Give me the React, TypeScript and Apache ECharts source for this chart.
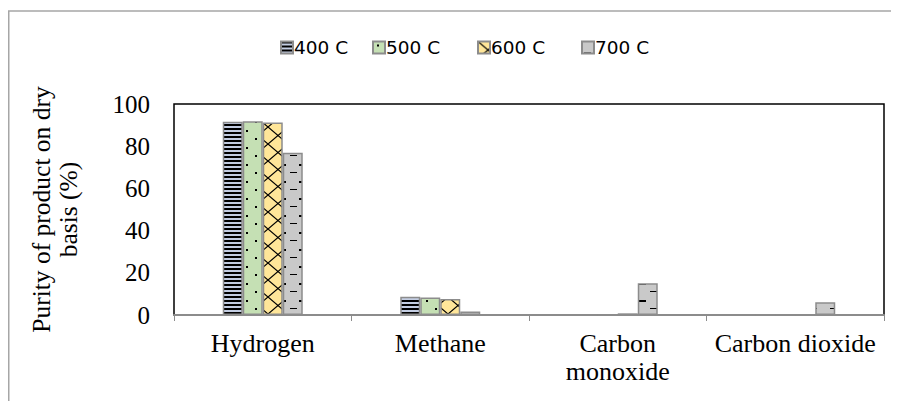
import React, { useEffect, useRef } from "react";
import * as echarts from "echarts";

const categories = ["Hydrogen", "Methane", "Carbon monoxide", "Carbon dioxide"];
const seriesNames = ["400 C", "500 C", "600 C", "700 C"];
const s400 = [91.6, 8.6, 0.1, 0.1];
const s500 = [91.8, 8.3, 0.1, 0.1];
const s600 = [91.2, 7.6, 0.8, 0.3];
const s700 = [76.9, 1.7, 15.0, 6.0];
const yTicks = [0, 20, 40, 60, 80, 100];

function makeTile(w: number, h: number, draw: (c: CanvasRenderingContext2D) => void) {
  const cv = document.createElement("canvas");
  cv.width = w;
  cv.height = h;
  const ctx = cv.getContext("2d")!;
  draw(ctx);
  return { image: cv.toDataURL(), repeat: "repeat", imageWidth: w, imageHeight: h } as any;
}

export default function App() {
  const ref = useRef<HTMLDivElement>(null);
  useEffect(() => {
    if (!ref.current) return;
    const chart = echarts.init(ref.current, null, { renderer: "svg" });

    const p400 = makeTile(4, 4, (c) => {
      c.fillStyle = "#c3cde2";
      c.fillRect(0, 0, 4, 4);
      c.fillStyle = "#000";
      c.fillRect(0, 0, 4, 2);
    });
    const p500 = makeTile(18, 17, (c) => {
      c.fillStyle = "#c5e0b4";
      c.fillRect(0, 0, 18, 17);
      c.fillStyle = "#000";
      c.fillRect(4, 3, 2, 2);
      c.fillRect(13, 11, 2, 2);
    });
    const p600 = makeTile(20, 17, (c) => {
      c.fillStyle = "#ffe699";
      c.fillRect(0, 0, 20, 17);
      c.strokeStyle = "#000";
      c.lineWidth = 1.2;
      c.beginPath();
      c.moveTo(0, 0);
      c.lineTo(20, 17);
      c.moveTo(20, 0);
      c.lineTo(0, 17);
      c.stroke();
    });
    const p700 = makeTile(20, 17, (c) => {
      c.fillStyle = "#c9c9c9";
      c.fillRect(0, 0, 20, 17);
      c.fillStyle = "#000";
      c.fillRect(11, 3, 7, 2);
      c.fillRect(2, 11, 7, 1);
    });
    const patterns = [p400, p500, p600, p700];
    const data = [s400, s500, s600, s700];
    const legendLefts = [267, 359, 464, 568];

    const serif = "'Liberation Serif', 'Times New Roman', serif";

    chart.setOption({
      animation: false,
      graphic: [
        {
          type: "rect",
          shape: { x: 0.75, y: 3, width: 1000, height: 1000 },
          style: { fill: "none", stroke: "#a6a6a6", lineWidth: 1.5 },
          silent: true,
        },
      ],
      legend: seriesNames.map((n, i) => ({
        data: [n],
        left: legendLefts[i],
        top: 25,
        itemWidth: 12,
        itemHeight: 12,
        itemGap: 4,
        icon: "rect",
        textStyle: { fontFamily: "'DejaVu Sans', sans-serif", fontSize: 18.5, color: "#000", padding: [0, 0, 0, -4] },
      })),
      grid: {
        left: 166,
        top: 96,
        right: 15,
        bottom: 86,
        show: true,
        borderColor: "#000",
        borderWidth: 1.5,
        backgroundColor: "transparent",
      },
      xAxis: {
        type: "category",
        data: categories,
        axisLine: { show: true, lineStyle: { color: "#8c8c8c", width: 2 } },
        axisTick: { show: true, length: 6, lineStyle: { color: "#8c8c8c", width: 1 } },
        axisLabel: {
          interval: 0,
          margin: 14,
          fontFamily: serif,
          fontSize: 26,
          color: "#000",
          lineHeight: 28,
          formatter: (v: string) => (v === "Carbon monoxide" ? "Carbon\nmonoxide" : v),
        },
      },
      yAxis: {
        type: "value",
        min: yTicks[0],
        max: yTicks[yTicks.length - 1],
        interval: 20,
        name: "Purity of product on dry\nbasis (%)",
        nameLocation: "middle",
        nameGap: 92,
        nameTextStyle: { fontFamily: serif, fontSize: 25.5, color: "#000", lineHeight: 27 },
        axisLine: { show: false },
        axisTick: { show: false },
        splitLine: { show: false },
        axisLabel: { margin: 24, fontFamily: serif, fontSize: 25, color: "#000" },
      },
      series: seriesNames.map((n, i) => ({
        name: n,
        type: "bar",
        data: data[i],
        barWidth: 20,
        barGap: "0%",
        itemStyle: { color: patterns[i], borderColor: "#8c8c8c", borderWidth: 1.5 },
      })),
    });
    return () => chart.dispose();
  }, []);
  return <div ref={ref} style={{ width: 891, height: 393 }} />;
}
